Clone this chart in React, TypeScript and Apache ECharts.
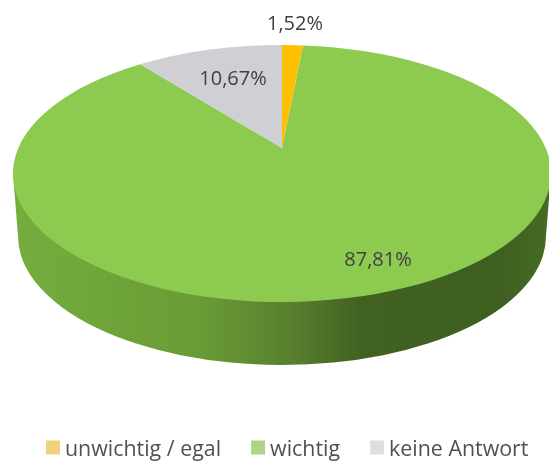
import React, { useEffect, useRef } from "react";
import * as echarts from "echarts";

const categories = ["unwichtig / egal", "wichtig", "keine Antwort"];
const shares = [1.52, 87.81, 10.67];
const sliceColors = ["#FFC000", "#8CCB50", "#D0CFD3"];
const legendColors = ["#EFD37A", "#AED487", "#DEDDE0"];

const W = 549;
const H = 464;
// top face of the tilted disc, with its perspective-shifted centre
const CX = 282;
const CY = 173.5;
const RX = 269;
const RY = 128.5;
const APEX_Y = 148;
// rim at the bottom of the disc
const RIM_RX = 264;
const RIM_CY = 236;
const RIM_RY = 129;

const labelAnchors: [number, number][] = [
  [295, 22],
  [378, 258],
  [233, 77],
];

const B = APEX_Y - CY;
const C = B / RY;
const D = RX * Math.sqrt(1 - C * C);

function project(theta: number): [number, number] {
  const u = Math.sin(theta);
  const v = -Math.cos(theta);
  const den = 1 + C * v;
  return [CX + (D * u) / den, CY + (RY * v + B) / den];
}

function cumulative(i: number): number {
  let s = 0;
  for (let k = 0; k < i; k++) s += shares[k];
  return (s / 100) * 2 * Math.PI;
}

function renderSlice(i: number) {
  return () => {
    const a0 = cumulative(i);
    const a1 = cumulative(i + 1);
    const [x0, y0] = project(a0);
    const [x1, y1] = project(a1);
    const large = a1 - a0 > Math.PI ? 1 : 0;
    const face = `M${CX} ${APEX_Y}L${x0} ${y0}A${RX} ${RY} 0 ${large} 1 ${x1} ${y1}Z`;
    const children: any[] = [];
    if (a0 < Math.PI && a1 > Math.PI) {
      const side =
        `M${CX - RX} ${CY}L${CX - RIM_RX} ${RIM_CY}` +
        `A${RIM_RX} ${RIM_RY} 0 0 0 ${CX + RIM_RX} ${RIM_CY}` +
        `L${CX + RX} ${CY}Z`;
      children.push({
        type: "path",
        shape: { pathData: side },
        style: {
          fill: new echarts.graphic.LinearGradient(0, 0, 1, 0, [
            { offset: 0, color: "#74AE3D" },
            { offset: 0.35, color: "#6A9B36" },
            { offset: 0.52, color: "#587F2E" },
            { offset: 0.65, color: "#416121" },
            { offset: 0.9, color: "#3F5F21" },
            { offset: 1, color: "#476B24" },
          ]),
        },
      });
    }
    children.push({
      type: "path",
      shape: { pathData: face },
      style: { fill: sliceColors[i] },
    });
    return { type: "group", children };
  };
}

function renderLabel() {
  return {
    type: "group",
    children: shares.map((v, i) => ({
      type: "text",
      x: labelAnchors[i][0],
      y: labelAnchors[i][1],
      style: {
        text: v.toFixed(2).replace(".", ",") + "%",
        fill: "#404040",
        font: '20px "Open Sans"',
        align: "center",
        verticalAlign: "middle",
      },
    })),
  };
}

export default function App() {
  const ref = useRef<HTMLDivElement>(null);
  useEffect(() => {
    const chart = echarts.init(ref.current!, undefined, { renderer: "svg" });
    const order = [1, 2, 0];
    chart.setOption({
      animation: false,
      backgroundColor: "#FFFFFF",
      legend: {
        data: categories.map((name, i) => ({
          name,
          itemStyle: { color: legendColors[i] },
        })),
        top: 432,
        left: 46 - 5,
        itemWidth: 14,
        itemHeight: 14,
        itemGap: 30,
        icon: "rect",
        textStyle: { color: "#505050", fontSize: 21.4, fontFamily: "Open Sans" },
      },
      series: [
        ...order.map((i) => ({
          type: "custom",
          name: categories[i],
          coordinateSystem: "none",
          data: [shares[i]],
          itemStyle: { color: sliceColors[i] },
          renderItem: renderSlice(i),
          silent: true,
        })),
        {
          type: "custom",
          name: "labels",
          coordinateSystem: "none",
          data: [0],
          renderItem: renderLabel,
          silent: true,
          z: 5,
        },
      ],
    });
    return () => chart.dispose();
  }, []);
  return (
    <div
      ref={ref}
      style={{
        position: "fixed",
        left: 0,
        top: 0,
        width: W,
        height: H,
        filter: "blur(0.5px)",
      }}
    />
  );
}
